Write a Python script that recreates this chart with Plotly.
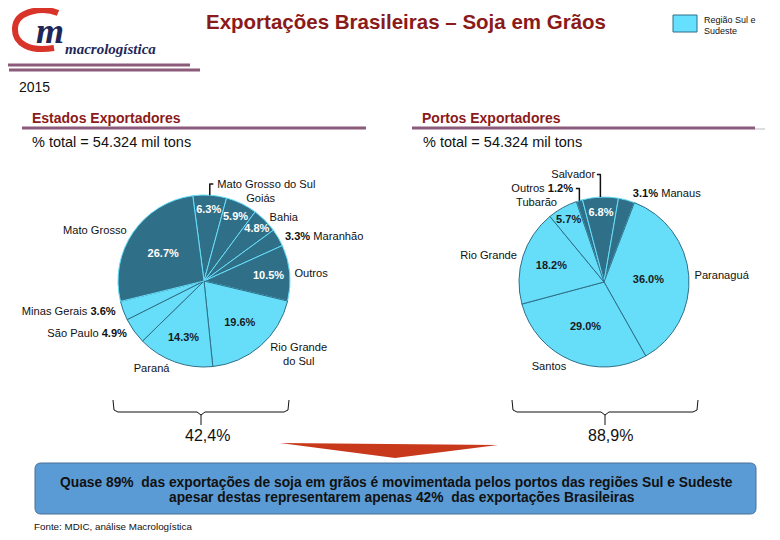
import plotly.graph_objects as go

# the page body has an 8px margin, so the figure is drawn 8px lower/righter
OFF = 8
W, H = 780 - OFF, 540 - OFF

# ---------------- data ----------------
states = ["Mato Grosso do Sul", "Goiás", "Bahia", "Maranhão", "Outros",
          "Rio Grande<br>do Sul", "Paraná", "São Paulo", "Minas Gerais", "Mato Grosso"]
state_share = [6.3, 5.9, 4.8, 3.3, 10.5, 19.6, 14.3, 4.9, 3.6, 26.7]
state_south = [0, 0, 0, 0, 0, 1, 1, 1, 1, 0]

ports = ["Outros", "Salvador", "Manaus", "Paranaguá", "Santos", "Rio Grande", "Tubarão"]
port_share = [1.2, 6.8, 3.1, 36.0, 29.0, 18.2, 5.7]
port_south = [0, 0, 0, 1, 1, 1, 1]

total_label = "% total = 54.324 mil tons"
states_south_total = "42,4%"
ports_south_total = "88,9%"

# ---------------- style ----------------
DARK = "#2F6F88"
LIGHT = "#66DEFA"
RED = "#8B1A1A"
PURPLE = "#8C5B7C"

# which percentages are written outside, next to the name (side: 'L' = label first)
state_pct_out = {"Maranhão": "R", "São Paulo": "L", "Minas Gerais": "L"}
port_pct_out = {"Outros": "L", "Manaus": "R"}


def px(x):
    return (x - OFF) / W


def py(y):
    return 1 - (y - OFF) / H


def path(pts, close=False):
    s = ""
    for i, p in enumerate(pts):
        if p is None:
            continue
        cmd = "M" if (i == 0 or pts[i - 1] is None) else "L"
        s += f"{cmd}{px(p[0]):.5f},{py(p[1]):.5f} "
    if close:
        s += "Z"
    return s


def pie_pair(labels, values, south, pct_out, cx, cy, r, rotation):
    dom = dict(x=[px(cx - r), px(cx + r)], y=[py(cy + r), py(cy - r)])
    colors = [LIGHT if s else DARK for s in south]
    lines = [DARK if s else LIGHT for s in south]
    pct_pos = ["none" if l in pct_out else "inside" for l in labels]
    pct_col = ["#1a1a1a" if s else "white" for s in south]
    t1 = go.Pie(labels=labels, values=values, sort=False, direction="clockwise",
                rotation=rotation, domain=dom,
                marker=dict(colors=colors, line=dict(color=lines, width=1)),
                texttemplate="<b>%{value:.1f}%</b>", textposition=pct_pos,
                insidetextorientation="horizontal",
                insidetextfont=dict(color=pct_col, size=11,
                                    family="Liberation Sans"),
                hoverinfo="skip", showlegend=False)
    ltxt = []
    for l, v in zip(labels, values):
        if l in pct_out:
            if pct_out[l] == "L":
                ltxt.append(f"{l} <b>{v:.1f}%</b>")
            else:
                ltxt.append(f"<b>{v:.1f}%</b> {l}")
        else:
            ltxt.append(l)
    t2 = go.Pie(labels=labels, values=values, sort=False, direction="clockwise",
                rotation=rotation, domain=dom,
                marker=dict(colors=["rgba(0,0,0,0)"] * len(values),
                            line=dict(width=0)),
                text=ltxt, texttemplate="%{text}", textposition="outside",
                outsidetextfont=dict(color="#111", size=12, family="Liberation Sans"),
                hoverinfo="skip", showlegend=False)
    return [t1, t2]


fig = go.Figure()
for t in pie_pair(states, state_share, state_south, state_pct_out, 204, 281, 86, -7.5):
    fig.add_trace(t)
for t in pie_pair(ports, port_share, port_south, port_pct_out, 604, 282, 85, -19):
    fig.add_trace(t)

shapes = []
ann = []


def line(x0, y0, x1, y1, color, width):
    shapes.append(dict(type="line", xref="paper", yref="paper",
                       x0=px(x0), y0=py(y0), x1=px(x1), y1=py(y1),
                       line=dict(color=color, width=width)))


def text(x, y, s, size, color="#111", bold=False, xanchor="left", family="Liberation Sans",
         italic=False, angle=0):
    if bold:
        s = f"<b>{s}</b>"
    if italic:
        s = f"<i>{s}</i>"
    ann.append(dict(x=px(x), y=py(y), xref="paper", yref="paper", text=s, showarrow=False,
                    xanchor=xanchor, yanchor="middle", textangle=angle,
                    font=dict(size=size, color=color, family=family)))


# logo
shapes.append(dict(type="path", xref="paper", yref="paper",
                   path=f"M{px(58):.5f},{py(13):.5f} C{px(44):.5f},{py(7):.5f} {px(16):.5f},{py(10):.5f} {px(15):.5f},{py(28):.5f} "
                        f"C{px(14):.5f},{py(44):.5f} {px(30):.5f},{py(52):.5f} {px(54):.5f},{py(48):.5f}",
                   line=dict(color="#D8342A", width=6)))
text(50, 31, "m", 36, color="#1F2758", bold=True, italic=True, xanchor="center",
     family="Liberation Serif")
text(63, 49, "macrologística", 15, color="#1F2758", bold=True, italic=True,
     family="Liberation Serif")
line(5, 65, 190, 65, PURPLE, 3)
line(9, 70, 200, 70, PURPLE, 3)

# title
text(406, 22, "Exportações Brasileiras – Soja em Grãos", 20.5, color=RED, bold=True,
     xanchor="center")

# legend box
shapes.append(dict(type="rect", xref="paper", yref="paper", x0=px(673), x1=px(697),
                   y0=py(15), y1=py(32), fillcolor="#66E0FF",
                   line=dict(color="#2F6F88", width=1)))
text(702, 20, "Região Sul e", 9)
text(702, 31, "Sudeste", 9)

text(17, 87, "2015", 14)

# section headers
text(30, 118, "Estados Exportadores", 14, color=RED, bold=True)
line(22, 128, 366, 128, PURPLE, 3)
text(30, 142, total_label, 14.5)
text(420, 118, "Portos Exportadores", 14, color=RED, bold=True)
line(412, 128, 755, 128, PURPLE, 3)
line(755, 129, 765, 129, "#bbb", 1)
text(421, 142, total_label, 14.5)

# brackets
for x0, xc, x1 in [(113, 201, 289), (512, 605, 698)]:
    shapes.append(dict(type="path", xref="paper", yref="paper",
                       path=path([(x0, 400), (x0 + 1, 410), (x0 + 5, 412), (xc - 4, 412),
                                  (xc, 415), (xc, 425), None, (xc, 415), (xc + 4, 412),
                                  (x1 - 5, 412), (x1 - 1, 410), (x1, 400)]),
                       line=dict(color="#111", width=1)))
text(208, 435, states_south_total, 16, xanchor="center")
text(610, 435, ports_south_total, 16, xanchor="center")

# red arrow
shapes.append(dict(type="path", xref="paper", yref="paper",
                   path=path([(280, 443), (498, 445), (395, 458)], close=True),
                   fillcolor="#C8381A", line=dict(width=0)))

# conclusion box (rounded)
bx0, bx1, by0, by1, rr = 35, 756, 463, 514, 6
shapes.append(dict(type="path", xref="paper", yref="paper",
                   path=(f"M{px(bx0 + rr)},{py(by0)} L{px(bx1 - rr)},{py(by0)} "
                         f"Q{px(bx1)},{py(by0)} {px(bx1)},{py(by0 + rr)} "
                         f"L{px(bx1)},{py(by1 - rr)} Q{px(bx1)},{py(by1)} {px(bx1 - rr)},{py(by1)} "
                         f"L{px(bx0 + rr)},{py(by1)} Q{px(bx0)},{py(by1)} {px(bx0)},{py(by1 - rr)} "
                         f"L{px(bx0)},{py(by0 + rr)} Q{px(bx0)},{py(by0)} {px(bx0 + rr)},{py(by0)} Z"),
                   fillcolor="#5B9BD5", line=dict(color="#4A6F96", width=1)))
text(396, 482, "Quase 89%  das exportações de soja em grãos é movimentada pelos portos das regiões Sul e Sudeste",
     13.8, color="#111", bold=True, xanchor="center")
text(402, 497, "apesar destas representarem apenas 42%  das exportações Brasileiras",
     13.8, color="#111", bold=True, xanchor="center")

text(32, 526, "Fonte: MDIC, análise Macrologística", 9.8)

fig.update_layout(width=W, height=H, margin=dict(l=0, r=0, t=0, b=0),
                  paper_bgcolor="white", plot_bgcolor="white",
                  shapes=shapes, annotations=ann,
                  uniformtext=dict(minsize=11, mode="show"),
                  font=dict(family="Liberation Sans"))

fig.write_html("out.html")
